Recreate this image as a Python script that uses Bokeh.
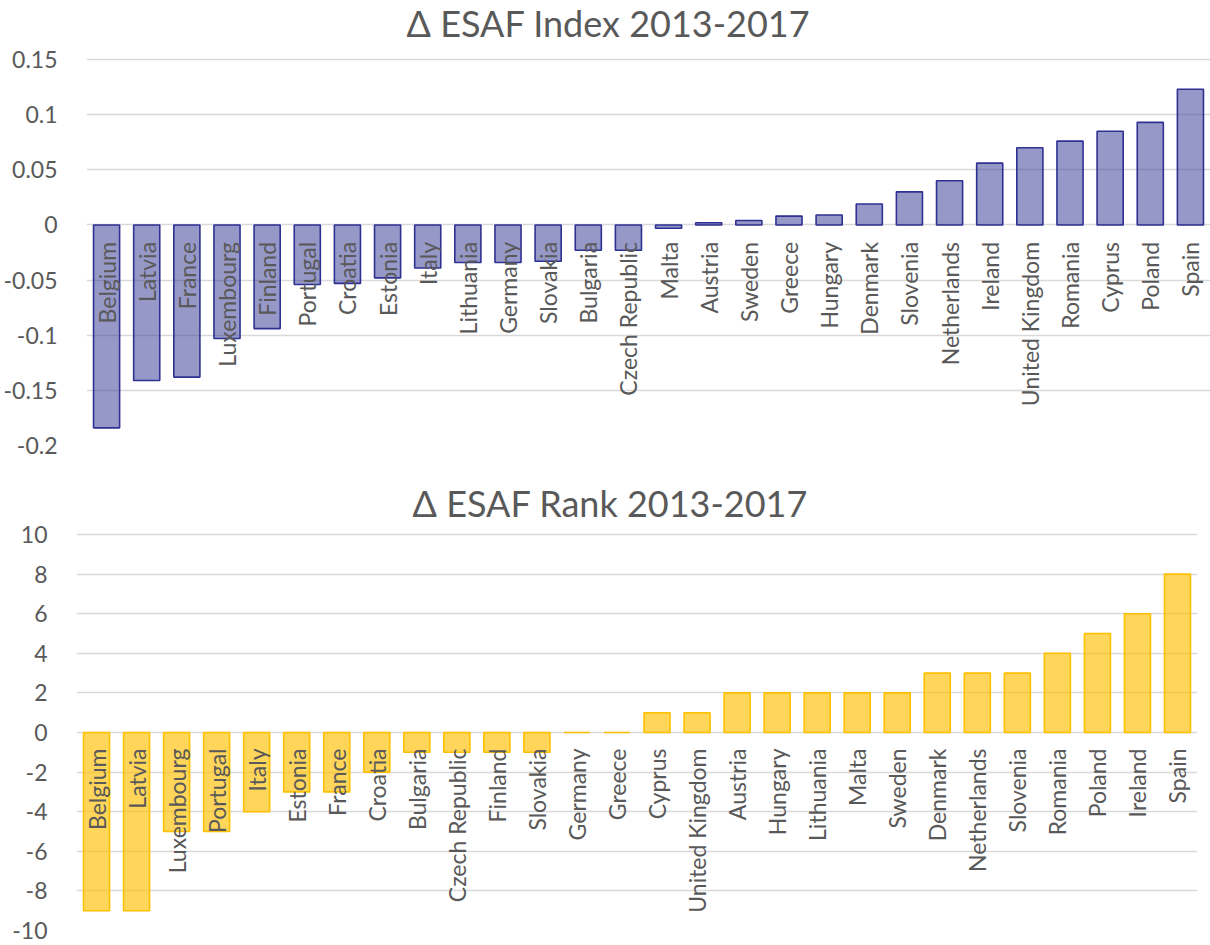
from bokeh.plotting import figure
from bokeh.layouts import column
from bokeh.models import FixedTicker, ColumnDataSource
from bokeh.core.properties import value
from bokeh.embed import file_html
from bokeh.resources import INLINE
import math

# ---- data ----
index_countries = ["Belgium", "Latvia", "France", "Luxembourg", "Finland", "Portugal", "Croatia",
                   "Estonia", "Italy", "Lithuania", "Germany", "Slovakia", "Bulgaria", "Czech Republic",
                   "Malta", "Austria", "Sweden", "Greece", "Hungary", "Denmark", "Slovenia",
                   "Netherlands", "Ireland", "United Kingdom", "Romania", "Cyprus", "Poland", "Spain"]
index_values = [-0.184, -0.141, -0.138, -0.103, -0.094, -0.054, -0.053, -0.048, -0.039, -0.034,
                -0.034, -0.033, -0.023, -0.023, -0.003, 0.002, 0.004, 0.008, 0.009, 0.019, 0.030,
                0.040, 0.056, 0.070, 0.076, 0.085, 0.093, 0.123]
index_ticks = [-0.2, -0.15, -0.1, -0.05, 0, 0.05, 0.1, 0.15]
index_tick_labels = ["-0.2", "-0.15", "-0.1", "-0.05", "0", "0.05", "0.1", "0.15"]

rank_countries = ["Belgium", "Latvia", "Luxembourg", "Portugal", "Italy", "Estonia", "France",
                  "Croatia", "Bulgaria", "Czech Republic", "Finland", "Slovakia", "Germany", "Greece",
                  "Cyprus", "United Kingdom", "Austria", "Hungary", "Lithuania", "Malta", "Sweden",
                  "Denmark", "Netherlands", "Slovenia", "Romania", "Poland", "Ireland", "Spain"]
rank_values = [-9, -9, -5, -5, -4, -3, -3, -2, -1, -1, -1, -1, 0, 0, 1, 1, 2, 2, 2, 2, 2, 3, 3, 3,
               4, 5, 6, 8]
rank_ticks = [-10, -8, -6, -4, -2, 0, 2, 4, 6, 8, 10]
rank_tick_labels = ["-10", "-8", "-6", "-4", "-2", "0", "2", "4", "6", "8", "10"]

FONT = "Lato"
TXT = "#595959"
W = 1210


def make_panel(title, cats, vals, ticks, labels, y_lo, y_hi, fill, line, alpha,
               height, mb_left, mb_right, mb_bottom, head_px, grid_px,
               title_dx, title_dy, lab_off):
    # the frame reaches the top of the canvas; the space above the top tick holds the title
    ppu = grid_px / (y_hi - y_lo)
    y_top = y_hi + head_px / ppu
    p = figure(x_range=cats, y_range=(y_lo, y_top), width=W, height=height,
               output_backend="svg", toolbar_location=None,
               min_border_left=mb_left, min_border_right=mb_right,
               min_border_top=0, min_border_bottom=mb_bottom)
    p.outline_line_color = None
    p.xaxis.visible = False
    p.xgrid.grid_line_color = None
    p.ygrid.grid_line_color = "#d9d9d9"
    p.ygrid.grid_line_width = 1.6
    p.ygrid.ticker = FixedTicker(ticks=ticks)
    ax = p.yaxis[0]
    ax.ticker = FixedTicker(ticks=ticks)
    ax.major_label_overrides = {t: l for t, l in zip(ticks, labels)}
    ax.axis_line_color = None
    ax.major_tick_line_color = None
    ax.minor_tick_line_color = None
    ax.major_label_standoff = 23
    ax.major_label_text_font = FONT
    ax.major_label_text_font_size = "23px"
    ax.major_label_text_color = TXT

    src = ColumnDataSource(dict(c=cats, v=vals, z=[0] * len(cats)))
    p.vbar(x="c", top="v", bottom=0, width=0.65, source=src,
           fill_color=fill, fill_alpha=alpha, line_color=line, line_width=1.6)
    p.text(x="c", y="z", text="c", source=src, angle=math.pi / 2,
           text_align="right", text_baseline="middle", y_offset=lab_off,
           text_font=value(FONT), text_font_size="23px", text_color=TXT)

    # chart title, centred over the categories
    p.text(x=[len(cats) / 2], y=[y_hi], text=[title], x_offset=title_dx, y_offset=-title_dy,
           text_align="center", text_baseline="alphabetic",
           text_font=value(FONT), text_font_size="36px", text_color=TXT)
    return p


p1 = make_panel("\u0394 ESAF Index 2013-2017", index_countries, index_values,
                index_ticks, index_tick_labels, -0.2, 0.15, "#2E3192", "#2E3192", 0.5,
                465, 85, 0, 20, 59, 386, -40, 37, 17)
p2 = make_panel("\u0394 ESAF Rank  2013-2017", rank_countries, rank_values,
                rank_ticks, rank_tick_labels, -10, 10, "#FFC000", "#FFC000", 0.65,
                479, 76, 13, 14, 69, 396, -22, 32, 16)

layout = column(column(p1), column(p2), spacing=0)
open("out.html", "w").write(file_html(layout, INLINE))
